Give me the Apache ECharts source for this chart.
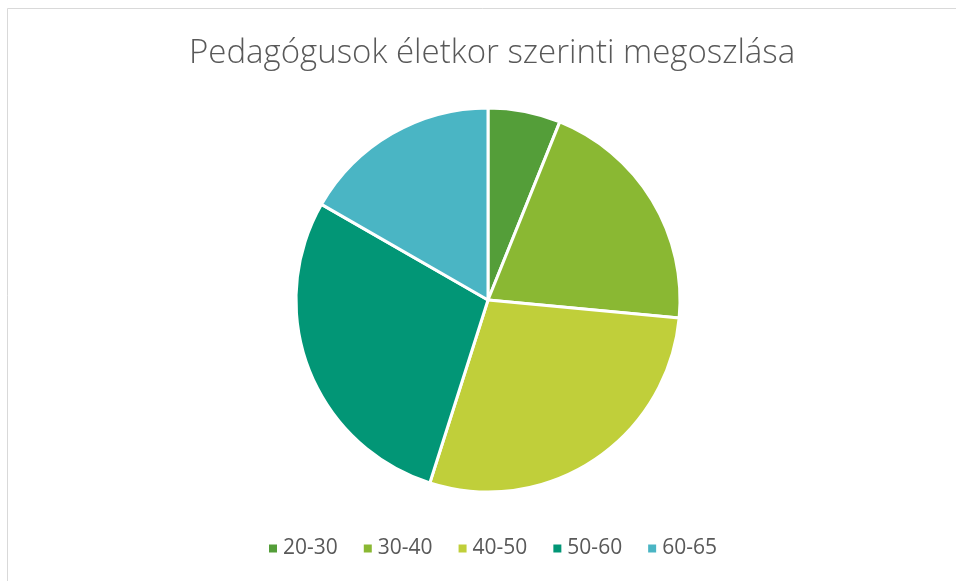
<!DOCTYPE html>
<html>
<head>
<meta charset="utf-8">
<script src="https://cdn.jsdelivr.net/npm/echarts@6/dist/echarts.min.js"></script>
<style>
  html, body { margin: 0; padding: 0; background: #fff; }
  #chart { width: 956px; height: 581px; }
</style>
</head>
<body>
<div id="chart"></div>
<script>
const categories = ['20-30', '30-40', '40-50', '50-60', '60-65']
const values = [6.1, 20.4, 28.4, 28.4, 16.7]
const colors = ['#549e39', '#8ab833', '#c0cf3a', '#029676', '#4ab5c4']

const myChart = echarts.init(document.getElementById('chart'))
const option = {
  backgroundColor: '#fff',
  color: colors,
  title: {
    text: 'Pedagógusok életkor szerinti megoszlása',
    left: 184,
    top: 32,
    textStyle: {
      fontFamily: 'Open Sans',
      fontWeight: 300,
      fontSize: 33,
      color: '#595959'
    }
  },
  legend: {
    bottom: 17,
    left: 262,
    icon: 'rect',
    itemWidth: 10,
    itemHeight: 10,
    itemGap: 24,
    textStyle: {
      fontFamily: 'Open Sans',
      fontSize: 21,
      color: '#595959'
    },
    data: categories
  },
  graphic: [
    {
      type: 'rect',
      shape: { x: 7.5, y: 8.5, width: 1000, height: 700 },
      style: { fill: 'none', stroke: '#d9d9d9', lineWidth: 1 },
      silent: true
    }
  ],
  series: [
    {
      type: 'pie',
      center: [488, 300],
      radius: [0, 192],
      startAngle: 90,
      clockwise: true,
      label: { show: false },
      labelLine: { show: false },
      emphasis: { scale: false },
      itemStyle: {
        borderColor: '#fff',
        borderWidth: 3
      },
      data: categories.map((name, i) => ({ name, value: values[i] }))
    }
  ]
}
myChart.setOption(option)
</script>
</body>
</html>
